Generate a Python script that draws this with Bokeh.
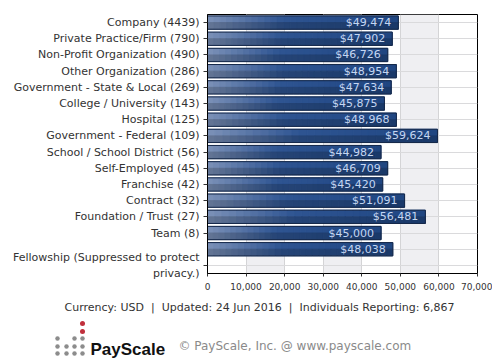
import numpy as np
from bokeh.plotting import figure
from bokeh.models import Range1d, FixedTicker, NumeralTickFormatter, ColumnDataSource, BoxAnnotation
from bokeh.embed import file_html
from bokeh.resources import INLINE
from bokeh.core.properties import value

# ---------------- data ----------------
categories = [
    "Company (4439)",
    "Private Practice/Firm (790)",
    "Non-Profit Organization (490)",
    "Other Organization (286)",
    "Government - State & Local (269)",
    "College / University (143)",
    "Hospital (125)",
    "Government - Federal (109)",
    "School / School District (56)",
    "Self-Employed (45)",
    "Franchise (42)",
    "Contract (32)",
    "Foundation / Trust (27)",
    "Team (8)",
    "Fellowship (Suppressed to protect\nprivacy.)",
]
salaries = [49474, 47902, 46726, 48954, 47634, 45875, 48968, 59624,
            44982, 46709, 45420, 51091, 56481, 45000, 48038]
x_ticks = [0, 10000, 20000, 30000, 40000, 50000, 60000, 70000]
SEP = "\u00a0\u00a0|\u00a0\u00a0"
footer_text = "Currency: USD" + SEP + "Updated: 24 Jun 2016" + SEP + "Individuals Reporting: 6,867"
brand = "PayScale"
copyright_text = "\u00a9 PayScale, Inc. @ www.payscale.com"

FONT = "DejaVu Sans"
n = len(categories)
bar_rows = list(range(n))
# the last label sits one row lower than its bar (as in the source)
tick_rows = list(range(n - 1)) + [n]

# ---------------- main chart ----------------
p = figure(frame_width=270, frame_height=259, min_border_left=207, min_border_top=14,
           min_border_right=15, min_border_bottom=22,
           x_range=Range1d(0, 70000), y_range=Range1d(n + 0.5, -0.5),
           output_backend="svg", toolbar_location=None,
           background_fill_color="white", border_fill_color="white")
p.outline_line_color = "black"
p.outline_line_width = 1

# soft drop shadow to the right of / below the frame
for i, a in enumerate([0.16, 0.11, 0.07, 0.04]):
    p.add_layout(BoxAnnotation(left=478 + 2 * i, right=480 + 2 * i, top=20, bottom=274 + 2 * i,
                               left_units="screen", right_units="screen",
                               top_units="screen", bottom_units="screen",
                               fill_color="#808080", fill_alpha=a, line_color=None, level="underlay"))
    p.add_layout(BoxAnnotation(left=213, right=478 + 2 * i, top=274 + 2 * i, bottom=276 + 2 * i,
                               left_units="screen", right_units="screen",
                               top_units="screen", bottom_units="screen",
                               fill_color="#808080", fill_alpha=a, line_color=None, level="underlay"))

p.xgrid.ticker = FixedTicker(ticks=x_ticks)
p.xgrid.grid_line_color = "#d4d4d6"
p.xgrid.band_fill_color = "#efeff2"
p.xgrid.band_fill_alpha = 1.0
p.ygrid.ticker = FixedTicker(ticks=list(range(n + 1)))
p.ygrid.grid_line_color = "#dadadc"

# gradient bars built from thin slices
def lerp(a, b, t):
    return tuple(a[i] + (b[i] - a[i]) * t for i in range(3))

L = (118, 138, 174)
M = (44, 80, 138)
R = (30, 66, 122)
nsl = 30
left, right, ys, cols_top, cols_bot = [], [], [], [], []
for row, v in zip(bar_rows, salaries):
    for k in range(nsl):
        t = (k + 0.5) / nsl
        c = lerp(L, M, t / 0.4) if t < 0.4 else lerp(M, R, (t - 0.4) / 0.6)
        left.append(v * k / nsl)
        right.append(v * (k + 1) / nsl)
        ys.append(row)
        cols_top.append("#%02x%02x%02x" % tuple(min(255, int(x * 1.06)) for x in c))
        cols_bot.append("#%02x%02x%02x" % tuple(int(x * 0.86) for x in c))

bh = 0.82
p.hbar(y=[y - bh / 4 for y in ys], left=left, right=right, height=bh / 2,
       fill_color=cols_top, line_color=cols_top, line_width=1)
p.hbar(y=[y + bh / 4 for y in ys], left=left, right=right, height=bh / 2,
       fill_color=cols_bot, line_color=cols_bot, line_width=1)
p.hbar(y=bar_rows, left=0, right=salaries, height=bh, fill_color=None,
       line_color="#16294a", line_width=1)

src = ColumnDataSource(dict(x=salaries, y=bar_rows,
                            t=["${:,}".format(v) for v in salaries]))
p.text(x="x", y="y", text="t", source=src, x_offset=-7,
       text_align="right", text_baseline="middle",
       text_font=value(FONT), text_font_size="11px", text_color="#c4d6f2")

# axes
p.yaxis.ticker = FixedTicker(ticks=tick_rows)
p.yaxis.major_label_overrides = {r: c for r, c in zip(tick_rows, categories)}
p.yaxis.major_label_text_font = FONT
p.yaxis.major_label_text_font_size = "11px"
p.yaxis.major_label_text_color = "#333333"
p.yaxis.major_tick_out = 4
p.yaxis.major_tick_in = 0
p.yaxis.minor_tick_line_color = None
p.yaxis.axis_line_color = "black"
p.yaxis.major_tick_line_color = "#333333"
p.yaxis.major_label_standoff = 4

p.xaxis.ticker = FixedTicker(ticks=x_ticks)
p.xaxis.formatter = NumeralTickFormatter(format="0,0")
p.xaxis.major_label_text_font = FONT
p.xaxis.major_label_text_font_size = "9px"
p.xaxis.major_label_text_color = "#333333"
p.xaxis.major_tick_out = 3
p.xaxis.major_tick_in = 0
p.xaxis.minor_tick_line_color = None
p.xaxis.axis_line_color = "black"
p.xaxis.major_tick_line_color = "#333333"
p.xaxis.major_label_standoff = 6

# ---------------- footer ----------------
f = figure(width=484, height=65, x_range=Range1d(0, 484), y_range=Range1d(65, 0),
           output_backend="svg", toolbar_location=None, min_border=0,
           background_fill_color="white", border_fill_color="white")
f.axis.visible = False
f.grid.visible = False
f.outline_line_color = None

f.text(x=[259], y=[12], text=[footer_text], text_align="center", text_baseline="middle",
       text_font=value(FONT), text_font_size="11px", text_color="#333333")

# logo dots (decoration)
gx = [57, 66, 74, 82]
dots_x = [57, 74, 82] + gx + gx
dots_y = [43] * 3 + [51] * 4 + [58] * 4
f.scatter(x=dots_x, y=dots_y, size=4.5, fill_color="#8c8c8c", line_color=None)
f.scatter(x=[82, 82], y=[28, 36], size=5, fill_color="#c0303c", line_color=None)
f.text(x=[90], y=[54], text=[brand], text_align="left", text_baseline="alphabetic",
       text_font=value("Liberation Sans"), text_font_style="bold",
       text_font_size="17px", text_color="#111111")
f.text(x=[178], y=[50], text=[copyright_text], text_align="left", text_baseline="middle",
       text_font=value(FONT), text_font_size="12px", text_color="#8a8a8a")

open("out.html", "w").write(file_html([p, f], INLINE))
